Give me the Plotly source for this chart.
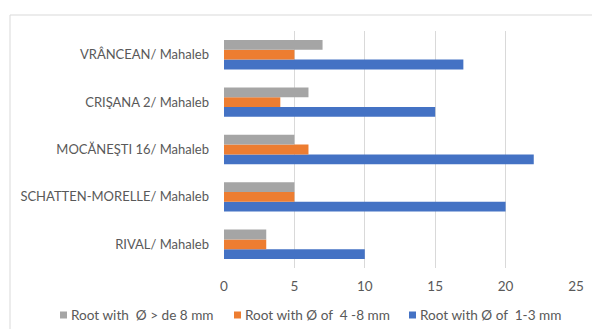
import plotly.graph_objects as go

# Rootstock combinations (listed bottom to top)
combinations = [
    "RIVAL/ Mahaleb",
    "SCHATTEN-MORELLE/ Mahaleb",
    "MOCĂNEŞTI 16/ Mahaleb",
    "CRIŞANA 2/ Mahaleb",
    "VRÂNCEAN/ Mahaleb",
]

# Number of roots per diameter class
roots_1_3mm = [10, 20, 22, 15, 17]
roots_4_8mm = [3, 5, 6, 4, 5]
roots_over_8mm = [3, 5, 5, 6, 7]

series_names = [
    "Root with Ø of  1-3 mm",
    "Root with Ø of  4 -8 mm",
    "Root with  Ø > de 8 mm",
]
series_values = [roots_1_3mm, roots_4_8mm, roots_over_8mm]
series_colors = ["#4472C4", "#ED7D31", "#A5A5A5"]

x_ticks = [0, 5, 10, 15, 20, 25]

W, H = 592, 329
M_L, M_R, M_T, M_B = 224, 16, 31, 61
PLOT_W = W - M_L - M_R
PLOT_H = H - M_T - M_B


def paper_x(px):
    return (px - M_L) / PLOT_W


def paper_y(py):
    return (H - M_B - py) / PLOT_H


text_color = "#595959"
grid_color = "#d9d9d9"

fig = go.Figure()
for name, vals, color in zip(series_names, series_values, series_colors):
    fig.add_trace(go.Bar(
        y=combinations,
        x=vals,
        name=name,
        orientation="h",
        marker=dict(color=color, line=dict(width=0)),
        showlegend=False,
    ))

# Legend row drawn below the axis: small square swatch followed by its label
legend_y = 315
legend_swatch_x = [60, 234, 409]
shapes = [
    dict(
        type="rect",
        xref="paper", yref="paper",
        x0=paper_x(10), x1=paper_x(W + 20),
        y0=paper_y(H + 20), y1=paper_y(15),
        line=dict(color=grid_color, width=1),
        fillcolor="rgba(0,0,0,0)",
        layer="below",
    )
]
annotations = []
for sx, name, color in zip(legend_swatch_x, series_names[::-1], series_colors[::-1]):
    shapes.append(dict(
        type="rect",
        xref="paper", yref="paper",
        x0=paper_x(sx), x1=paper_x(sx + 7),
        y0=paper_y(legend_y + 3.5), y1=paper_y(legend_y - 3.5),
        line=dict(width=0),
        fillcolor=color,
    ))
    annotations.append(dict(
        xref="paper", yref="paper",
        x=paper_x(sx + 9), y=paper_y(legend_y),
        xanchor="left", yanchor="middle",
        text=name,
        showarrow=False,
        font=dict(size=13.6, color=text_color),
    ))

fig.update_layout(
    width=W,
    height=H,
    margin=dict(l=M_L, r=M_R, t=M_T, b=M_B, autoexpand=False),
    paper_bgcolor="white",
    plot_bgcolor="white",
    barmode="group",
    bargap=0.38,
    bargroupgap=0.0,
    showlegend=False,
    font=dict(family="Lato, 'Open Sans', sans-serif", size=12, color=text_color),
    xaxis=dict(
        range=[0, 25],
        tickvals=x_ticks,
        showgrid=True,
        gridcolor=grid_color,
        gridwidth=1,
        zeroline=False,
        showline=False,
        ticks="",
        ticklabelstandoff=8,
        tickfont=dict(size=13.5, color=text_color),
        fixedrange=True,
    ),
    yaxis=dict(
        showgrid=False,
        zeroline=False,
        showline=False,
        ticks="",
        ticklabelstandoff=14,
        tickfont=dict(size=13, color=text_color),
        fixedrange=True,
    ),
    shapes=shapes,
    annotations=annotations,
)

fig.write_html("out.html")
